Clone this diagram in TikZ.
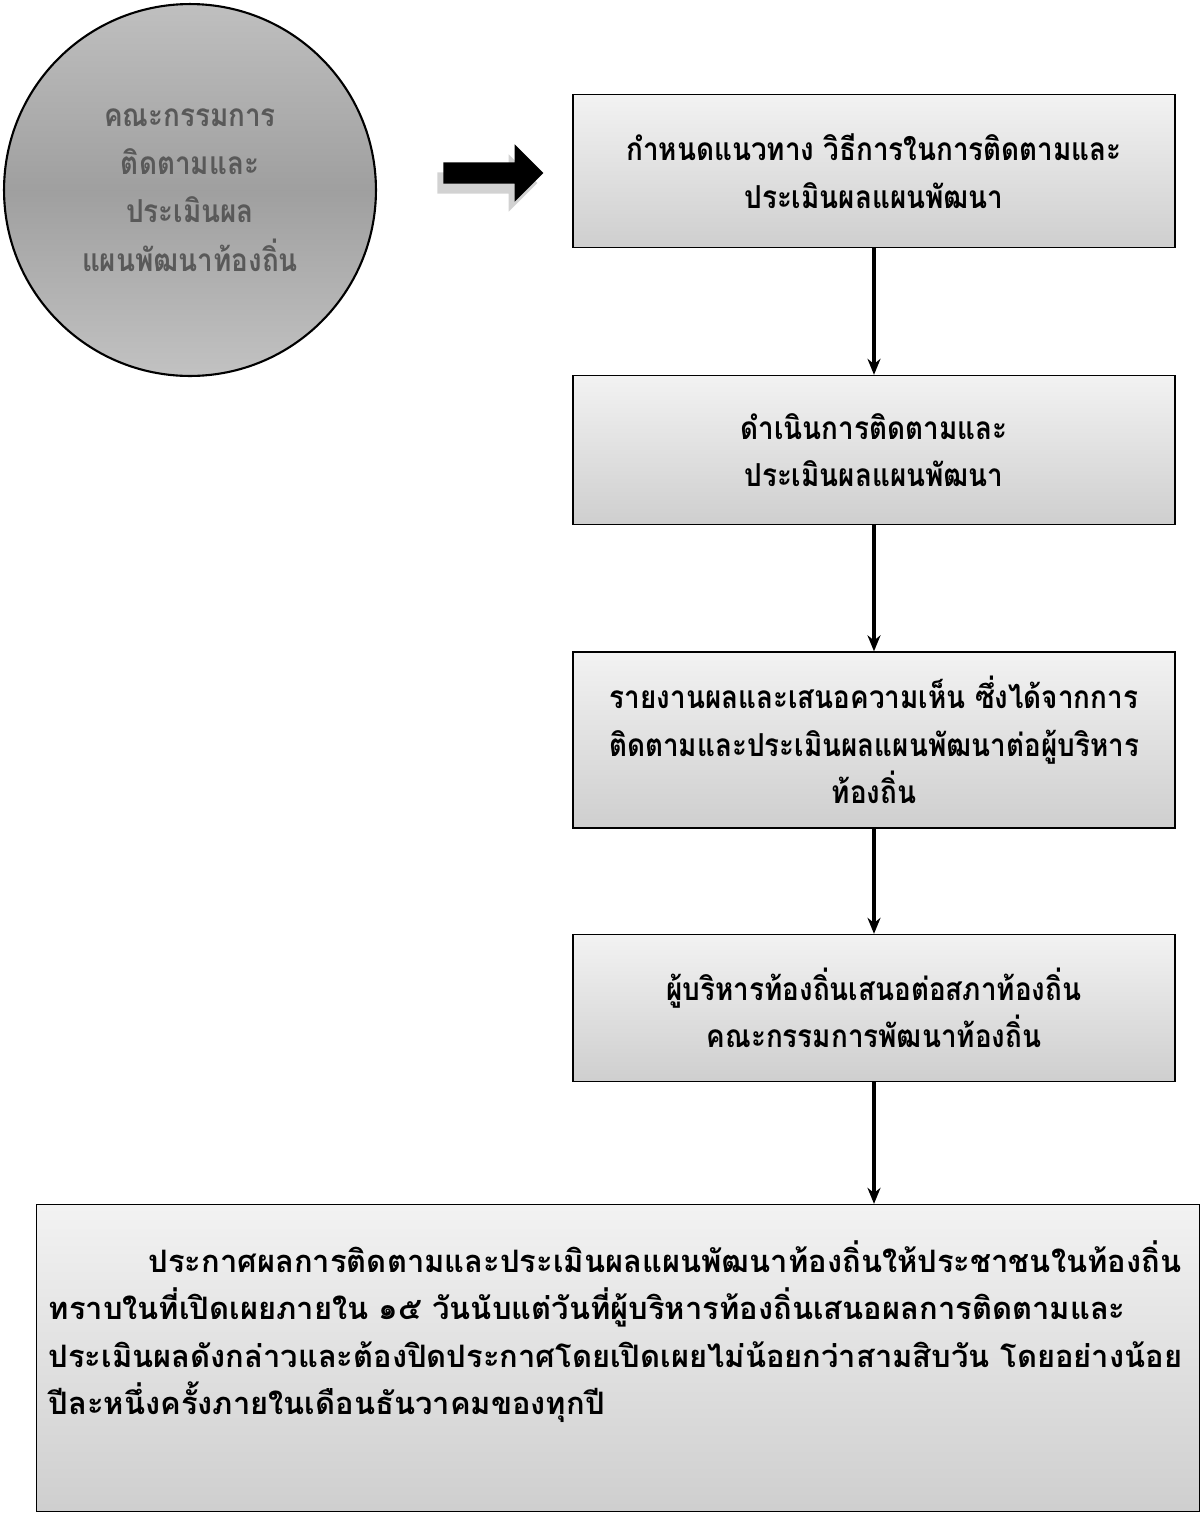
\documentclass[tikz,border=0pt]{standalone}
\usepackage{fontspec}
\newfontfamily\thaifont[Script=Thai]{Loma}
\newfontfamily\thaicond[Script=Thai,FakeStretch=0.88]{Loma}
\usetikzlibrary{positioning,arrows.meta,shapes.arrows,shadows}

\begin{document}
\begin{tikzpicture}[x=0.02cm, y=-0.02cm, thick,
  stepbox/.style = {draw=black, line width=0.8pt, top color=gray!10, bottom color=gray!38,
    minimum width=12.04cm, align=center, font=\thaicond\bfseries\fontsize{18}{27}\selectfont},
  flow/.style = {line width=1.8pt, -{Stealth[length=0.32cm, width=0.26cm]}}]
  \useasboundingbox (0,0) rectangle (1204,1529);

  % committee circle
  \node (comm) at (190,190) [circle, draw=black, line width=1.2pt, minimum size=7.44cm,
    top color=gray!50, bottom color=gray!48, middle color=gray!75, text=black!65,
    align=center, font=\thaicond\bfseries\fontsize{18}{27.5}\selectfont]
    {คณะกรรมการ\\ติดตามและ\\ประเมินผล\\แผนพัฒนาท้องถิ่น};

  \node (go) at (488,173) [single arrow, fill=black, inner sep=0pt, inner ysep=0.2cm,
    single arrow head extend=0.36cm, minimum height=2cm,
    drop shadow={shadow xshift=-0.12cm, shadow yshift=-0.2cm, fill=gray!70}] {};

  \node (b1) at (874,171) [stepbox, minimum height=3.06cm]
    {กำหนดแนวทาง วิธีการในการติดตามและ\\ประเมินผลแผนพัฒนา};
  \node (b2) at (874,450) [stepbox, minimum height=2.98cm]
    {ดำเนินการติดตามและ\\ประเมินผลแผนพัฒนา};
  \node (b3) at (874,740) [stepbox, minimum height=3.52cm]
    {รายงานผลและเสนอความเห็น ซึ่งได้จากการ\\ติดตามและประเมินผลแผนพัฒนาต่อผู้บริหาร\\ท้องถิ่น};
  \node (b4) at (874,1008) [stepbox, minimum height=2.94cm]
    {ผู้บริหารท้องถิ่นเสนอต่อสภาท้องถิ่น\\คณะกรรมการพัฒนาท้องถิ่น};
  \node (b5) at (618,1358) [stepbox, minimum width=23.26cm, minimum height=6.14cm] {};
  \node (b5text) at (48,1240) [anchor=north west, align=left, inner sep=0pt,
    font=\thaifont\bfseries\fontsize{17.6}{27}\selectfont]
    {\hspace*{2cm}ประกาศผลการติดตามและประเมินผลแผนพัฒนาท้องถิ่นให้ประชาชนในท้องถิ่น\\
     ทราบในที่เปิดเผยภายใน ๑๕ วันนับแต่วันที่ผู้บริหารท้องถิ่นเสนอผลการติดตามและ\\
     ประเมินผลดังกล่าวและต้องปิดประกาศโดยเปิดเผยไม่น้อยกว่าสามสิบวัน โดยอย่างน้อย\\
     ปีละหนึ่งครั้งภายในเดือนธันวาคมของทุกปี};

  \draw[flow] (b1) -- (b2);
  \draw[flow] (b2) -- (b3);
  \draw[flow] (b3) -- (b4);
  \draw[flow] (b4.south) -- (b5.north -| b4.south);
\end{tikzpicture}
\end{document}
